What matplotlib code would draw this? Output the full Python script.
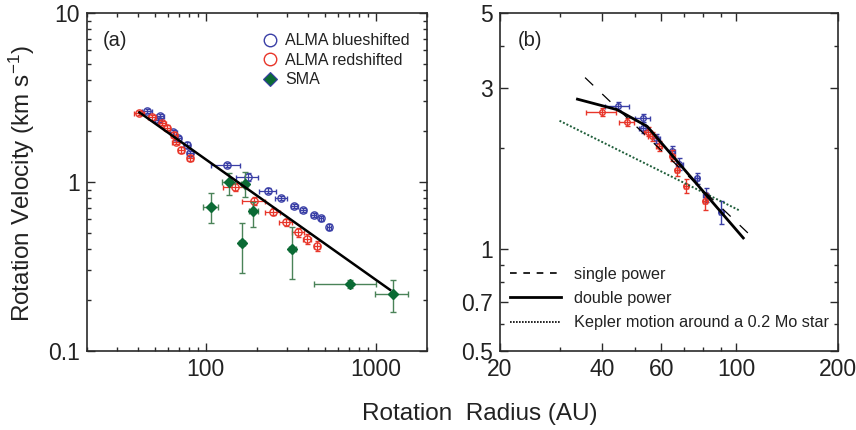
import matplotlib
matplotlib.use("Agg")
import matplotlib.pyplot as plt
from matplotlib.ticker import FixedLocator, NullFormatter, FixedFormatter
from matplotlib.lines import Line2D
import numpy as np

plt.rcParams['font.family'] = ['Liberation Sans', 'DejaVu Sans']
plt.rcParams['mathtext.fontset'] = 'custom'
plt.rcParams['mathtext.rm'] = 'Liberation Sans'
plt.rcParams['mathtext.it'] = 'Liberation Sans:italic'
plt.rcParams['mathtext.bf'] = 'Liberation Sans:bold'

# ---------------- Panel (a) data ----------------
blue_a_r = [45, 52.5, 53.8, 64.5, 68.4, 77.3, 80.8, 132.8, 176.5, 231.6, 277, 332, 375, 430, 477, 533]
blue_a_v = [2.63, 2.33, 2.47, 1.97, 1.81, 1.66, 1.48, 1.26, 1.07, 0.889, 0.804, 0.724, 0.680, 0.638, 0.61, 0.542]
blue_a_rerr = [3, 2.5, 3, 3, 3, 3, 3, 25, 26, 27, 23, 15, 15, 15, 15, 15]
blue_a_verr = [0.08, 0.07, 0.07, 0.06, 0.06, 0.06, 0.05, 0.03, 0.06, 0.03, 0.025, 0.02, 0.02, 0.02, 0.02, 0.02]

red_a_r = [40.7, 48.5, 55.5, 58.9, 65, 66.6, 71.3, 80.8, 148.8, 193, 247.7, 295, 350, 395, 450]
red_a_v = [2.57, 2.41, 2.24, 2.10, 1.91, 1.73, 1.55, 1.39, 0.93, 0.772, 0.667, 0.578, 0.504, 0.46, 0.42]
red_a_rerr = [2.8, 2.5, 2.5, 2.5, 3, 3, 3, 3, 22, 30, 25, 26, 27, 20, 20]
red_a_verr = [0.07, 0.07, 0.06, 0.06, 0.06, 0.06, 0.06, 0.06, 0.05, 0.04, 0.03, 0.03, 0.03, 0.03, 0.03]

sma_r = [107, 136, 164, 169, 190.6, 323, 706, 1270]
sma_v = [0.714, 1.0, 0.434, 0.97, 0.676, 0.40, 0.248, 0.216]
sma_v_lo = [0.144, 0.16, 0.144, 0.16, 0.134, 0.135, 0.012, 0.046]
sma_v_hi = [0.146, 0.13, 0.14, 0.17, 0.09, 0.142, 0.014, 0.047]
sma_r_lo = [10.5, 12, 7, 8, 11, 14, 273, 275]
sma_r_hi = [10.5, 12, 7, 8, 11, 14, 294, 280]

fit_a_r = [40.7, 1213]
fit_a_v = [2.58, 0.23]

# ---------------- Panel (b) data ----------------
blue_b_r = [44.6, 52.9, 53.1, 57.9, 64.7, 67.9, 76.5, 81.2, 90.3]
blue_b_v = [2.65, 2.45, 2.28, 2.13, 1.95, 1.79, 1.62, 1.45, 1.29]
blue_b_rerr = [3.7, 2.7, 1.5, 1.5, 1.2, 1.5, 1.2, 1.2, 1.2]
blue_b_verr = [0.07, 0.07, 0.07, 0.07, 0.07, 0.07, 0.06, 0.07, 0.1]

red_b_r = [40.0, 47.4, 54.9, 56.2, 59.2, 64.7, 66.8, 71.2, 80.8]
red_b_v = [2.55, 2.38, 2.23, 2.16, 2.02, 1.89, 1.72, 1.54, 1.39]
red_b_rerr = [4.1, 2.5, 1.5, 1.5, 1.2, 1.0, 1.0, 1.0, 1.0]
red_b_verr = [0.07, 0.07, 0.07, 0.07, 0.07, 0.07, 0.07, 0.07, 0.08]

single_r = [35.7, 114.4]
single_v = [3.22, 1.06]
double_r = [33.9, 44.3, 54.5, 104.9]
double_v = [2.78, 2.59, 2.31, 1.08]
kepler_r = [30, 102.6]
kepler_v = [2.40, 1.30]

# tick settings
a_xmajor = [100, 1000]
a_xmajor_labels = ["100", "1000"]
a_xminor = [20, 30, 40, 50, 60, 70, 80, 90, 200, 300, 400, 500, 600, 700, 800, 900, 2000]
a_ymajor = [0.1, 1, 10]
a_ymajor_labels = ["0.1", "1", "10"]
a_yminor = [0.2, 0.3, 0.4, 0.5, 0.6, 0.7, 0.8, 0.9, 2, 3, 4, 5, 6, 7, 8, 9]

b_xmajor = [20, 40, 60, 100, 200]
b_xmajor_labels = ["20", "40", "60", "100", "200"]
b_xminor = [30, 50, 70, 80, 90]
b_ymajor = [0.5, 0.7, 1, 3, 5]
b_ymajor_labels = ["0.5", "0.7", "1", "3", "5"]
b_yminor = [0.6, 0.8, 0.9, 2, 4]

BLUE = '#3a3fa6'
RED = '#e8362a'
GREEN = '#0b6b35'
GREEN_ERR = '#4a8358'
SPINE = '#2a2a2a'
TEXT = '#222222'

fig = plt.figure(figsize=(8.56, 4.30), dpi=100)
axa = fig.add_axes([87/856, 1-351/430, 340/856, 338/430])
axb = fig.add_axes([500/856, 1-351/430, 338/856, 338/430])

def style_axis(ax, xmaj, xmaj_lab, xmin, ymaj, ymaj_lab, ymin):
    ax.set_xscale('log')
    ax.set_yscale('log')
    ax.xaxis.set_major_locator(FixedLocator(xmaj))
    ax.xaxis.set_major_formatter(FixedFormatter(xmaj_lab))
    ax.xaxis.set_minor_locator(FixedLocator(xmin))
    ax.xaxis.set_minor_formatter(NullFormatter())
    ax.yaxis.set_major_locator(FixedLocator(ymaj))
    ax.yaxis.set_major_formatter(FixedFormatter(ymaj_lab))
    ax.yaxis.set_minor_locator(FixedLocator(ymin))
    ax.yaxis.set_minor_formatter(NullFormatter())
    ax.tick_params(which='both', direction='in', top=True, right=True,
                   color=SPINE, labelsize=16.5, width=1.0, labelcolor=TEXT)
    ax.tick_params(which='major', length=5.5, pad=5)
    ax.tick_params(which='minor', length=2.8)
    for s in ax.spines.values():
        s.set_linewidth(1.2)
        s.set_color(SPINE)

# ---------------- Panel (a) ----------------
ekw = dict(elinewidth=0.9, capsize=1.8, capthick=0.9, linestyle='none')
axa.errorbar(blue_a_r, blue_a_v, xerr=blue_a_rerr, yerr=blue_a_verr, fmt='o',
             mfc='none', mec=BLUE, ms=5.2, mew=1.0, ecolor=BLUE, zorder=3, **ekw)
axa.errorbar(red_a_r, red_a_v, xerr=red_a_rerr, yerr=red_a_verr, fmt='o',
             mfc='none', mec=RED, ms=5.2, mew=1.0, ecolor=RED, zorder=4, **ekw)
axa.errorbar(sma_r, sma_v, xerr=[sma_r_lo, sma_r_hi], yerr=[sma_v_lo, sma_v_hi], fmt='D',
             mfc=GREEN, mec=GREEN, ms=5.0, ecolor=GREEN_ERR, zorder=5,
             elinewidth=1.0, capsize=2.2, capthick=1.0, linestyle='none')
axa.plot(fit_a_r, fit_a_v, color='black', lw=1.8, zorder=6)

axa.set_xlim(20, 2000)
axa.set_ylim(0.1, 10)
style_axis(axa, a_xmajor, a_xmajor_labels, a_xminor, a_ymajor, a_ymajor_labels, a_yminor)
axa.text(0.083, 0.92, "(a)", transform=axa.transAxes, fontsize=14.5, color=TEXT,
         ha='center', va='center')

handles_a = [
    Line2D([], [], marker='o', ls='none', mfc='none', mec=BLUE, ms=9, mew=1.0),
    Line2D([], [], marker='o', ls='none', mfc='none', mec=RED, ms=9, mew=1.0),
    Line2D([], [], marker='D', ls='none', mfc=GREEN, mec=BLUE, ms=7.5, mew=0.8),
]
leg_a = axa.legend(handles_a, ["ALMA blueshifted", "ALMA redshifted", "SMA"],
                   loc='upper left', bbox_to_anchor=(0.515, 0.94), frameon=False,
                   fontsize=11.5, handlelength=1.0, handletextpad=0.45,
                   labelspacing=0.28, borderpad=0, borderaxespad=0)
for t in leg_a.get_texts():
    t.set_color(TEXT)

# ---------------- Panel (b) ----------------
ekw_b = dict(elinewidth=1.0, capsize=1.8, capthick=1.0, linestyle='none')
axb.errorbar(blue_b_r, blue_b_v, xerr=blue_b_rerr, yerr=blue_b_verr, fmt='o',
             mfc='none', mec=BLUE, ms=4.0, mew=1.0, ecolor=BLUE, zorder=3, **ekw_b)
axb.errorbar(red_b_r, red_b_v, xerr=red_b_rerr, yerr=red_b_verr, fmt='o',
             mfc='none', mec=RED, ms=4.0, mew=1.0, ecolor=RED, zorder=4, **ekw_b)
axb.plot(kepler_r, kepler_v, color='#1f5e3a', lw=1.4, ls=(0, (1, 1)), zorder=5)
axb.plot(single_r, single_v, color='black', lw=0.9, ls=(0, (9, 10)), zorder=6)
axb.plot(double_r, double_v, color='black', lw=2.0, zorder=7)

axb.set_xlim(20, 200)
axb.set_ylim(0.5, 5)
style_axis(axb, b_xmajor, b_xmajor_labels, b_xminor, b_ymajor, b_ymajor_labels, b_yminor)
axb.text(0.09, 0.92, "(b)", transform=axb.transAxes, fontsize=14.5, color=TEXT,
         ha='center', va='center')

handles_b = [
    Line2D([], [], color='black', lw=1.2, ls=(0, (4, 4))),
    Line2D([], [], color='black', lw=2.0),
    Line2D([], [], color='black', lw=1.2, ls=(0, (1, 0.8))),
]
leg_b = axb.legend(handles_b, ["single power", "double power", "Kepler motion around a 0.2 Mo star"],
                   loc='upper left', bbox_to_anchor=(0.03, 0.25), frameon=False,
                   fontsize=11.7, handlelength=3.1, handletextpad=0.8,
                   labelspacing=0.58, borderpad=0, borderaxespad=0)
for t in leg_b.get_texts():
    t.set_color(TEXT)

# ---------------- Axis titles ----------------
fig.text(480/856, 1-414/430, "Rotation  Radius (AU)", fontsize=17.5, color=TEXT,
         ha='center', va='center')
fig.text(22/856, 1-184/430, "Rotation Velocity (km s$^{\\mathregular{-1}}$)", fontsize=17.5,
         color=TEXT, ha='center', va='center', rotation=90)

fig.savefig("out.png", dpi=100)
